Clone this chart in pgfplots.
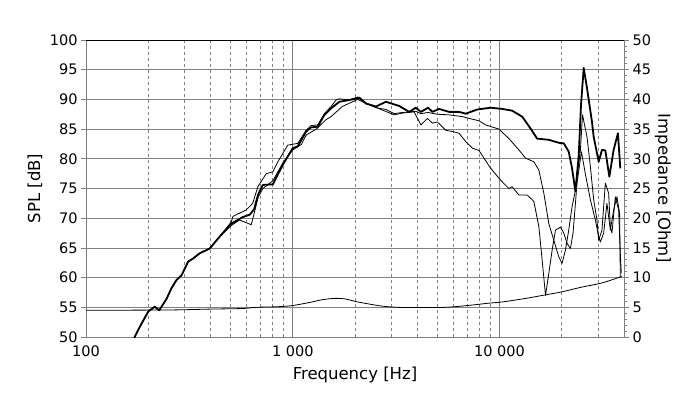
\documentclass[border=0pt]{standalone}
\usepackage{fontspec}
\setmainfont{DejaVu Sans}
\usepackage{pgfplots}
\pgfplotsset{compat=1.18}
\definecolor{gridgray}{RGB}{128,128,128}
\begin{document}
\begin{tikzpicture}
\path[use as bounding box] (-86pt,-62pt) rectangle (614pt,337pt);
\begin{axis}[
  at={(0,0)}, anchor=south west,
  scale only axis, width=538pt, height=297pt,
  xmode=log, xmin=100, xmax=40000, ymin=50, ymax=100,
  xtick={100,1000,10000}, xticklabels={100,1 000,10 000},
  minor xtick={200,300,400,500,600,700,800,900,2000,3000,4000,5000,6000,7000,8000,9000,20000,30000},
  ytick={50,55,...,100},
  xmajorgrids, xminorgrids, ymajorgrids,
  major grid style={gridgray, line width=0.8pt},
  minor grid style={gridgray, dash pattern=on 3pt off 3pt, line width=0.8pt},
  axis line style={gridgray, line width=0.8pt},
  tick style={gridgray, line width=0.8pt},
  tick align=outside, major tick length=5pt,
  xtick style={draw=none},
  xtick pos=left, ytick pos=left,
  ticklabel style={font=\fontsize{14.5}{17}\selectfont},
  /pgf/number format/assume math mode=true,
  xlabel={Frequency [Hz]}, ylabel={SPL [dB]},
  every axis x label/.style={at={(axis description cs:0.5,-0.128)}, anchor=center, font=\fontsize{16.5}{19}\selectfont},
  every axis y label/.style={at={(axis description cs:-0.095,0.5)}, anchor=center, rotate=90, font=\fontsize{16.5}{19}\selectfont},
  line join=round,
]
% on-axis (thick)
\addplot[black, line width=1.8pt] coordinates {
(165,48.5) (172,50.0) (182,51.7) (200,54.3) (215,55.1) (226,54.5) (245,56.4) (259,58.2) (274,59.6) (290,60.4) (312,62.7) (329,63.2) (355,64.1) (397,64.9) (443,66.9) (505,69.1) (574,70.2) (620,70.6) (650,71.5) (680,74.0) (717,75.6) (801,75.7) (895,79.0) (1000,81.8) (1057,82.1) (1161,84.6) (1227,85.3) (1320,85.4) (1422,87.4) (1532,88.5) (1680,89.6) (1877,89.9) (2059,90.2) (2098,90.3) (2260,89.3) (2525,88.8) (2822,89.6) (3271,88.9) (3656,87.9) (3938,88.6) (4164,87.9) (4515,88.6) (4736,87.9) (5102,88.4) (5700,87.9) (6371,87.9) (6864,87.6) (7806,88.3) (9059,88.6) (10304,88.4) (11515,88.1) (12869,87.1) (14125,85.1) (15200,83.4) (17313,83.2) (19345,82.7) (20449,82.6) (21616,81.2) (22422,78.4) (23284,74.5) (24155,80.6) (24782,89.1) (25534,95.3) (26486,91.9) (28000,86.2) (28534,83.7) (30166,79.5) (31293,81.5) (32498,81.4) (33970,77.0) (35641,81.5) (37375,84.3) (38386,78.4)
};
% off-axis A (thin)
\addplot[black, line width=0.8pt] coordinates {
(165,48.5) (172,50.0) (182,51.7) (200,54.3) (215,55.1) (226,54.5) (245,56.4) (259,58.2) (274,59.6) (290,60.4) (312,62.7) (329,63.2) (355,64.1) (397,64.9) (443,66.9) (505,69.4) (513,70.3) (596,71.4) (640,72.5) (678,75.3) (744,77.5) (801,77.8) (847,79.5) (946,82.3) (1057,82.6) (1161,84.8) (1227,85.6) (1320,85.7) (1422,87.6) (1532,88.8) (1620,89.9) (1680,90.1) (1877,89.9) (2059,90.4) (2260,89.4) (2525,88.6) (2822,88.3) (3094,87.6) (3394,87.8) (3656,87.9) (3938,88.0) (4164,87.6) (4515,87.8) (5006,87.5) (5700,87.4) (6609,87.1) (7120,86.8) (7955,86.4) (8569,85.7) (9934,85.0) (11100,83.4) (12405,81.5) (13364,80.1) (14656,79.5) (15494,78.1) (16377,74.2) (17313,69.1) (18300,66.3) (19345,63.5) (20066,62.4) (20820,64.6) (21616,68.0) (22422,71.9) (23284,74.7) (24619,81.5) (25200,87.4) (26486,83.7) (27503,78.7) (28534,73.1) (29602,69.7) (30166,66.3) (31293,68.0) (32498,75.9) (33711,74.2) (34350,68.5) (34974,67.5) (36310,73.6) (37670,71.4) (38386,64.1) (38815,60.7)
};
% off-axis B (thin)
\addplot[black, line width=0.8pt] coordinates {
(165,48.5) (172,50.0) (182,51.7) (200,54.3) (215,55.1) (226,54.5) (245,56.4) (259,58.2) (274,59.6) (290,60.4) (312,62.7) (329,63.2) (355,64.1) (397,64.9) (443,66.9) (505,68.8) (553,69.7) (630,68.9) (645,70.3) (680,73.5) (717,75.0) (801,76.3) (895,79.3) (1000,81.5) (1100,82.4) (1161,84.0) (1300,85.0) (1449,86.6) (1532,87.1) (1735,88.8) (2059,90.0) (2344,89.1) (2718,88.2) (3094,87.4) (3394,87.7) (3865,87.9) (4164,85.7) (4480,86.8) (4736,86.0) (5006,86.2) (5495,84.8) (5913,84.6) (6371,84.3) (6864,82.9) (7386,81.8) (7955,81.4) (9059,78.4) (10123,76.4) (11100,75.0) (11500,75.3) (12405,73.9) (13604,73.9) (14380,73.1) (14656,72.8) (15494,68.6) (16070,63.0) (16689,57.0) (17313,60.7) (17958,64.6) (18648,68.0) (19714,68.5) (20449,67.5) (21193,65.8) (22028,64.9) (22677,67.5) (23284,72.5) (23702,75.9) (24893,81.2) (25995,77.5) (27503,73.1) (29078,69.7) (30166,66.9) (30741,66.0) (31890,67.5) (33080,72.5) (34350,68.0) (35641,71.4) (36970,73.6) (38090,70.8) (38386,60.1)
};
\draw[black, line width=1pt] (rel axis cs:0,1) -- (rel axis cs:1,1);
\end{axis}
\begin{axis}[
  at={(0,0)}, anchor=south west,
  scale only axis, width=538pt, height=297pt,
  xmode=log, xmin=100, xmax=40000, ymin=0, ymax=50,
  axis x line=none, axis y line*=right,
  ytick={0,5,...,50}, minor y tick num=4,
  tick align=outside, major tick length=5pt, minor tick length=3pt,
  axis line style={gridgray, line width=0.8pt, -},
  tick style={gridgray, line width=0.8pt},
  ticklabel style={font=\fontsize{14.5}{17}\selectfont},
  /pgf/number format/assume math mode=true,
  ylabel={Impedance [Ohm]},
  every axis y label/.style={at={(axis description cs:1.0725,0.5)}, anchor=center, rotate=-90, font=\fontsize{16.5}{19}\selectfont},
]
\addplot[black, line width=0.8pt, smooth] coordinates {
(100,4.5) (250,4.55) (400,4.7) (574,4.8) (666,5.0) (850,5.1) (1000,5.3) (1200,5.8) (1400,6.3) (1600,6.5) (1800,6.4) (2000,6.0) (2300,5.6) (2700,5.2) (3200,5.0) (4000,4.95) (5500,5.0) (7000,5.3) (8900,5.7) (10300,5.9) (13400,6.5) (16700,7.1) (20000,7.6) (25000,8.4) (31300,9.1) (39000,10.2)
};
\end{axis}
\end{tikzpicture}
\end{document}
